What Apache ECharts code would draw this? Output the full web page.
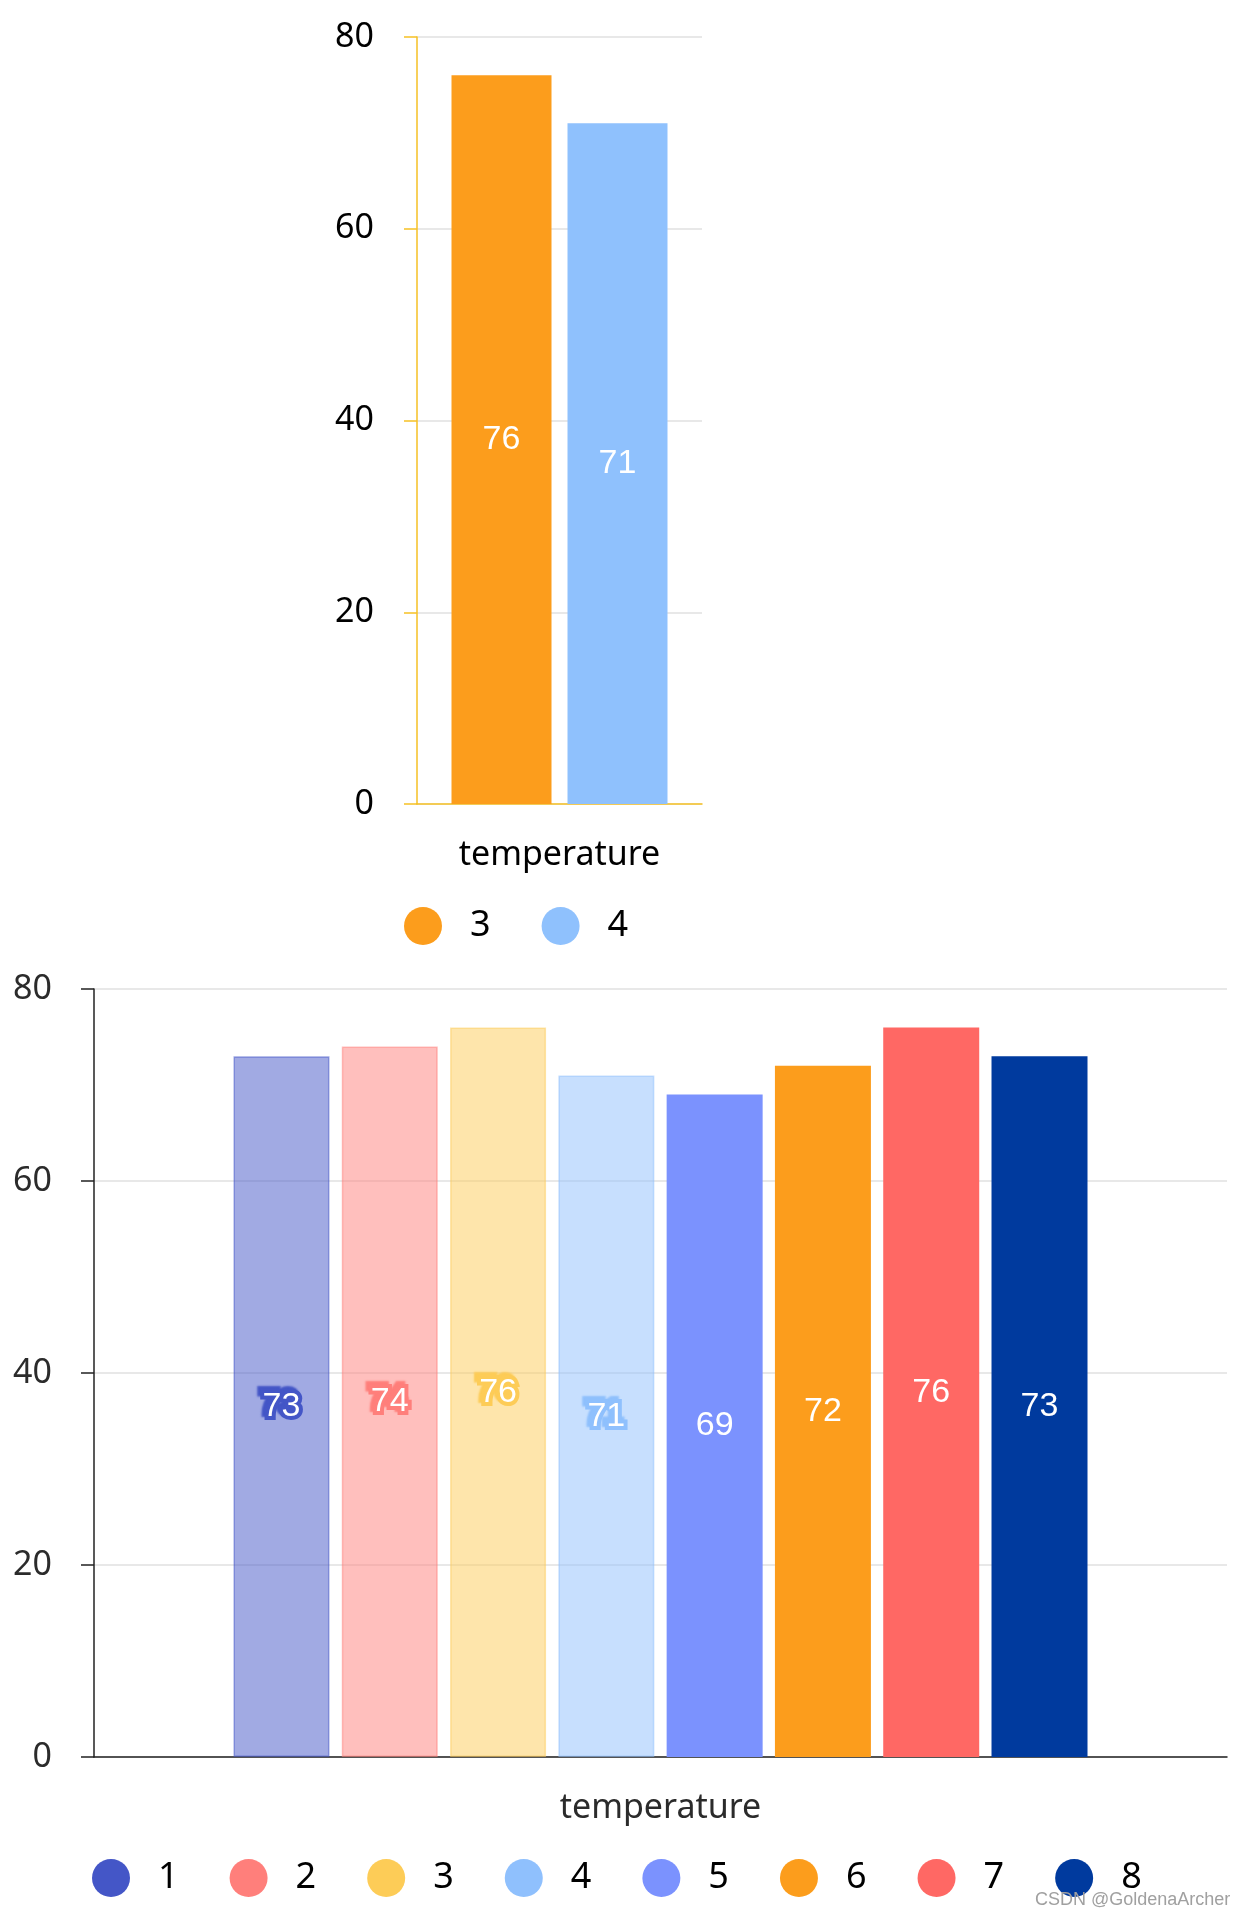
<!DOCTYPE html>
<html>
<head>
<meta charset="utf-8">
<script src="https://cdn.jsdelivr.net/npm/echarts@6/dist/echarts.min.js"></script>
<style>
  html, body { margin: 0; padding: 0; background: #fff; }
  #a { position: absolute; left: 0; top: 0; width: 1242px; height: 960px; }
  #b { position: absolute; left: 0; top: 960px; width: 1242px; height: 958px; }
</style>
</head>
<body>
<div id="a"></div>
<div id="b"></div>
<script>
// ---- data ----
const categories = ['temperature'];
const topNames = ['3', '4'];
const topValues = [76, 71];
const topColors = ['#fc9d1c', '#8fc1fd'];

const bottomNames = ['1', '2', '3', '4', '5', '6', '7', '8'];
const bottomValues = [73, 74, 76, 71, 69, 72, 76, 73];
const bottomColors = ['#4456c7', '#ff7f7b', '#fdcc57', '#8fc0fd', '#7b92fe', '#fc9d1c', '#ff6864', '#003a9e'];
const bottomFaded = [true, true, true, true, false, false, false, false];

const yMin = 0, yMax = 80, yInterval = 20;

const axisFont = '"Noto Sans", sans-serif';
const labelFont = '"Liberation Sans", Arial, sans-serif';

// ---- top chart ----
const chartA = echarts.init(document.getElementById('a'));
const yellow = '#f6c124';
chartA.setOption({
  animation: false,
  grid: { left: 417, top: 37, width: 285, height: 767, containLabel: false, outerBoundsMode: 'none' },
  legend: {
    left: 404, top: 907, padding: 0,
    icon: 'circle', itemWidth: 38, itemHeight: 38, itemGap: 51,
    itemStyle: { opacity: 1, borderWidth: 0 },
    textStyle: { fontSize: 36, color: '#000', fontFamily: axisFont, padding: [0, 0, 0, 23] },
    data: topNames
  },
  xAxis: {
    type: 'category', data: categories,
    axisLine: { lineStyle: { color: yellow, width: 1.5 } },
    axisTick: { alignWithLabel: true, length: 13, lineStyle: { color: yellow, width: 1.5 } },
    axisLabel: { fontSize: 34, color: '#000', fontFamily: axisFont, margin: 34 }
  },
  yAxis: {
    type: 'value', min: yMin, max: yMax, interval: yInterval,
    axisLine: { show: true, lineStyle: { color: yellow, width: 1.5 } },
    axisTick: { show: true, length: 13, lineStyle: { color: yellow, width: 1.5 } },
    axisLabel: { fontSize: 34, color: '#000', fontFamily: axisFont, margin: 43 },
    splitLine: { lineStyle: { color: '#e0e0e0', width: 1.5 } }
  },
  series: topNames.map((n, i) => ({
    name: n, type: 'bar', data: [topValues[i]],
    barWidth: 100, barGap: '16%',
    itemStyle: { color: topColors[i] },
    label: { show: true, position: 'inside', color: '#fff', fontSize: 34, fontFamily: labelFont }
  }))
});

// ---- bottom chart ----
const chartB = echarts.init(document.getElementById('b'));
chartB.setOption({
  animation: false,
  grid: { left: 94, top: 29, width: 1133, height: 768, containLabel: false, outerBoundsMode: 'none' },
  legend: {
    left: 92, top: 899, padding: 0,
    icon: 'circle', itemWidth: 38, itemHeight: 38, itemGap: 51,
    itemStyle: { opacity: 1, borderWidth: 0 },
    textStyle: { fontSize: 36, color: '#000', fontFamily: axisFont, padding: [0, 0, 0, 23] },
    data: bottomNames
  },
  graphic: [{
    type: 'text', left: 1035, top: 931, z: 100,
    style: { text: 'CSDN @GoldenaArcher', fill: '#a0a0a0', font: '18px "Liberation Sans", Arial, sans-serif' }
  }],
  xAxis: {
    type: 'category', data: categories,
    axisLine: { lineStyle: { color: '#222', width: 1.5 } },
    axisTick: { alignWithLabel: true, length: 13, lineStyle: { color: '#222', width: 1.5 } },
    axisLabel: { fontSize: 34, color: '#2b2b2b', fontFamily: axisFont, margin: 34 }
  },
  yAxis: {
    type: 'value', min: yMin, max: yMax, interval: yInterval,
    axisLine: { show: true, lineStyle: { color: '#222', width: 1.5 } },
    axisTick: { show: true, length: 13, lineStyle: { color: '#222', width: 1.5 } },
    axisLabel: { fontSize: 34, color: '#2b2b2b', fontFamily: axisFont, margin: 42 },
    splitLine: { lineStyle: { color: '#e0e0e0', width: 1.5 } }
  },
  series: bottomNames.map((n, i) => ({
    name: n, type: 'bar', data: [bottomValues[i]],
    barWidth: 96, barGap: '12.8%',
    itemStyle: bottomFaded[i]
      ? { color: bottomColors[i], opacity: 0.5, borderColor: bottomColors[i], borderWidth: 1.5 }
      : { color: bottomColors[i] },
    label: bottomFaded[i]
      ? { show: true, position: 'inside', color: '#fff', fontSize: 34, fontFamily: labelFont, opacity: 1,
          textBorderColor: bottomColors[i], textBorderWidth: 8,
          textShadowColor: bottomColors[i], textShadowOffsetX: -3, textShadowOffsetY: -3, textShadowBlur: 2 }
      : { show: true, position: 'inside', color: '#fff', fontSize: 34, fontFamily: labelFont }
  }))
});
</script>
</body>
</html>
